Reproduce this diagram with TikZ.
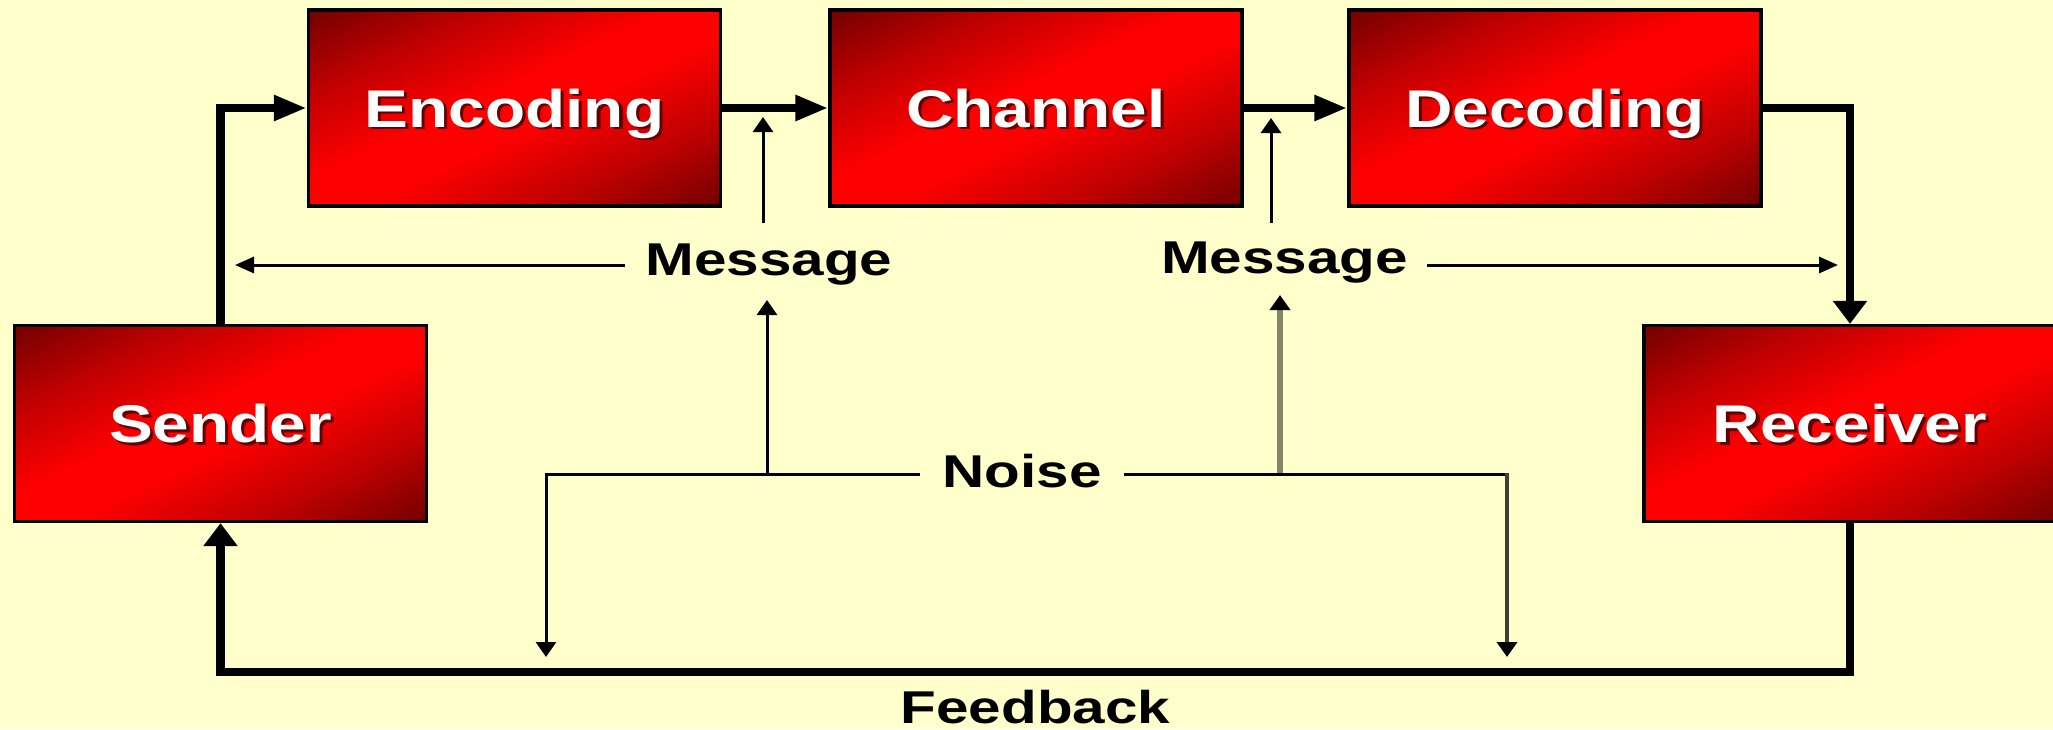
\documentclass[tikz,border=0pt]{standalone}
\usepackage{fontspec}
\setmainfont{Liberation Sans}
\usetikzlibrary{arrows.meta}
\definecolor{bg}{HTML}{FFFFCC}
\definecolor{dred}{HTML}{780000}
\definecolor{mred}{HTML}{C00000}
\definecolor{bred}{HTML}{FF0000}
\definecolor{shred}{HTML}{600000}
\definecolor{gline}{HTML}{85856A}
\definecolor{dgline}{HTML}{404030}
\pgfdeclareverticalshading{boxshade}{100bp}{color(0bp)=(dred); color(26bp)=(dred); color(36bp)=(mred); color(47bp)=(bred); color(53bp)=(bred); color(64bp)=(mred); color(74bp)=(dred); color(100bp)=(dred)}
\newcommand\shtxt[1]{\scalebox{1.24}[1]{\rlap{\kern2.5pt\raisebox{-2.5pt}{\color{shred}#1}}\textcolor{white}{#1}}}
\newcommand\lbltxt[1]{\scalebox{1.27}[1]{#1}}
% red box: name, x, y, text
\newcommand\redbox[4]{%
  \begin{scope}
    \clip (#2-206,#3-98) rectangle (#2+206,#3+98);
    \shade[shading=boxshade,
      transform canvas={shift={(#2,#3)}, xscale=206, yscale=98, rotate=45, scale=1.4142}]
      (-1.01,-1.01) rectangle (1.01,1.01);
  \end{scope}
  \node[box] (#1) at (#2,#3) {\shtxt{#4}};}
\begin{document}
\begin{tikzpicture}[x=1pt,y=-1pt,
  box/.style={draw=black, line width=3.3pt, minimum width=412pt, minimum height=196pt,
    inner sep=0pt,
    font=\fontsize{53pt}{60pt}\selectfont\bfseries, text height=38pt, text depth=0pt},
  lbl/.style={font=\fontsize{46pt}{52pt}\selectfont\bfseries, text height=33pt, inner ysep=0pt},
  fat/.style={line width=8.5pt},
  tipH/.style={-{Triangle[length=33pt,width=24pt]}},
  tipV/.style={-{Triangle[length=23pt,width=33pt]}},
  slim/.style={line width=3pt},
  stipH/.style={-{Triangle[length=19pt,width=16pt]}},
  stipV/.style={-{Triangle[length=15pt,width=20pt]}}
]
\fill[bg] (0,0) rectangle (2053,729);
\useasboundingbox (0,0) rectangle (2053,729);

% boxes
\redbox{S}{220.5}{423.5}{Sender}
\redbox{E}{514.5}{108}{Encoding}
\redbox{C}{1036}{108}{Channel}
\redbox{D}{1555}{108}{Decoding}
\redbox{R}{1850}{423.5}{Receiver}

% labels
\node[lbl, text depth=13pt, inner xsep=20pt, inner ysep=19pt] (ML) at (769,265) {\lbltxt{Message}};
\node[lbl, text depth=17pt, inner xsep=19pt, inner ysep=17pt] (MR) at (1284.5,265) {\lbltxt{Message}};
\node[lbl, text depth=7pt, inner xsep=22.5pt] (N) at (1022,474) {\lbltxt{Noise}};
\node[lbl, anchor=base] (FB) at (1035.5,723) {\lbltxt{Feedback}};

% main flow
\draw[fat,tipH] (S) |- (E);
\draw[fat,tipH] (E) -- (C);
\draw[fat,tipH] (C) -- (D);
\draw[fat,tipV] (D) -| (R);
\coordinate (fb) at (1035,672);
\draw[fat,tipV] (R.south) |- (fb) -| (S.south);

% message arrows
\coordinate (mlL) at (235,265);
\draw[slim,stipH] (ML.west) -- (mlL);
\coordinate (mrR) at (1838,265);
\draw[slim,stipH] (MR.east) -- (mrR);
\coordinate (a1) at (763,117);
\draw[slim,stipV] (ML.north -| a1) -- (a1);
\coordinate (a2) at (1271,118);
\draw[slim,stipV] (MR.north -| a2) -- (a2);

% noise arrows
\coordinate (a3) at (767,300);
\draw[slim,stipV] (N.west -| a3) -- (a3);
\coordinate (a4) at (1280,295);
\draw[line width=6pt, gline, -{Triangle[length=15pt,width=20pt,color=black]}] (N.east -| a4) -- (a4);
\coordinate (nl) at (546,657);
\draw[slim,stipV] (N.west) -| (nl);
\coordinate (nr) at (1507,657);
\draw[slim] (N.east) -- (N.east -| nr);
\draw[line width=4pt, dgline, -{Triangle[length=15pt,width=20pt,color=black]}] ([yshift=1.5pt]N.east -| nr) -- (nr);
\end{tikzpicture}
\end{document}
